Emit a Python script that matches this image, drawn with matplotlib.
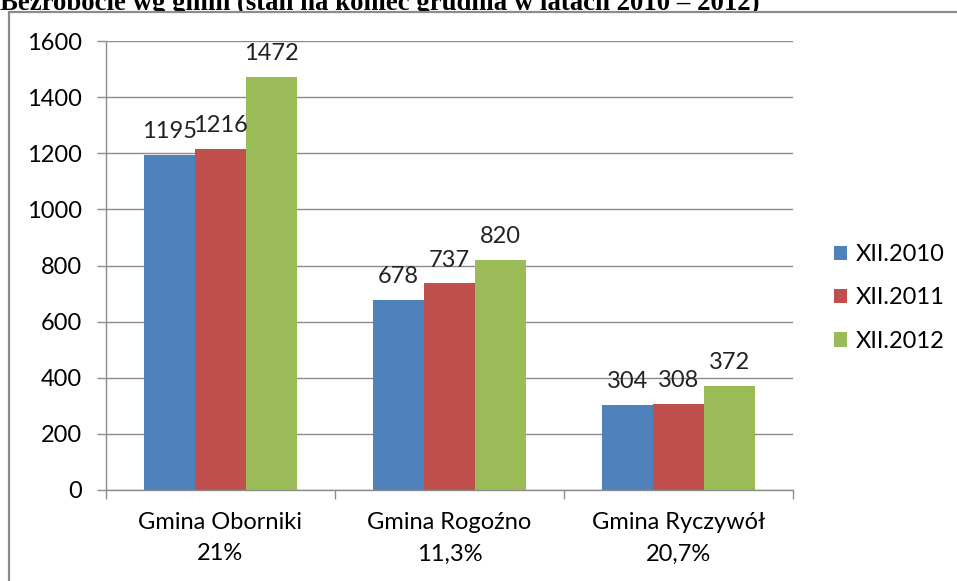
import numpy as np
import matplotlib.pyplot as plt
from matplotlib.patches import Rectangle, Patch

plt.rcParams['font.family'] = ['Lato', 'DejaVu Sans']

gminy = ["Gmina Oborniki\n21%", "Gmina Rogoźno\n11,3%", "Gmina Ryczywół\n20,7%"]
serie = ["XII.2010", "XII.2011", "XII.2012"]
v2010 = [1195, 678, 304]
v2011 = [1216, 737, 308]
v2012 = [1472, 820, 372]
kolory = ["#4F81BD", "#C0504D", "#9BBB59"]

tytul = "Bezrobocie wg gmin (stan na koniec grudnia w latach 2010 \u2013 2012)"

W, H = 957, 581
fig = plt.figure(figsize=(W / 100, H / 100), dpi=100)

# title, partly hidden behind the chart frame (as in the source)
fig.text(0.0, 1 - 10 / H, tytul, family='Liberation Serif', fontweight='bold',
         fontsize=19.3, ha='left', va='baseline', zorder=-3)
ramka = Rectangle((8.5 / W, -0.1), 1.2, 1.1 - 11.5 / H, transform=fig.transFigure,
                  facecolor='white', edgecolor='#8c8c8c', linewidth=1.6, zorder=-2)
fig.add_artist(ramka)

ax = fig.add_axes([106 / W, 1 - 490 / H, 687 / W, 449 / H])
ax.set_zorder(0)

x = np.arange(len(gminy))
bw = 1 / 4.5
grupy = [v2010, v2011, v2012]
for i, (vals, kol, lab) in enumerate(zip(grupy, kolory, serie)):
    bars = ax.bar(x + (i - 1) * bw, vals, bw, color=kol, label=lab, zorder=2)
    ax.bar_label(bars, padding=9, fontsize=17, color='#222222')

ax.set_xlim(-0.5, 2.5)
ax.set_ylim(0, 1600)
ax.set_yticks(np.arange(0, 1601, 200))
ax.yaxis.grid(True, color='#8c8c8c', linewidth=1.0, zorder=0)
ax.set_axisbelow(True)

ax.set_xticks([-0.5, 0.5, 1.5, 2.5])
ax.set_xticklabels([])
ax.set_xticks(x, minor=True)
ax.set_xticklabels(gminy, minor=True, fontsize=17, linespacing=1.6)
ax.tick_params(axis='x', which='minor', length=0, pad=16)
ax.tick_params(axis='x', which='major', length=6.5, color='#8c8c8c', width=1.0)
ax.tick_params(axis='y', length=6.5, color='#8c8c8c', width=1.0, pad=11, labelsize=17)

for s in ['top', 'right']:
    ax.spines[s].set_visible(False)
for s in ['left', 'bottom']:
    ax.spines[s].set_color('#8c8c8c')
    ax.spines[s].set_linewidth(1.0)

uchwyty = [Patch(facecolor=k, edgecolor='none') for k in kolory]
leg = fig.legend(uchwyty, serie, loc='center left', bbox_to_anchor=(813 / W, 1 - 298 / H),
                 frameon=False, fontsize=17, handlelength=0.55, handleheight=0.55,
                 handletextpad=0.35, labelspacing=0.95)

fig.savefig("out.png", dpi=100)
